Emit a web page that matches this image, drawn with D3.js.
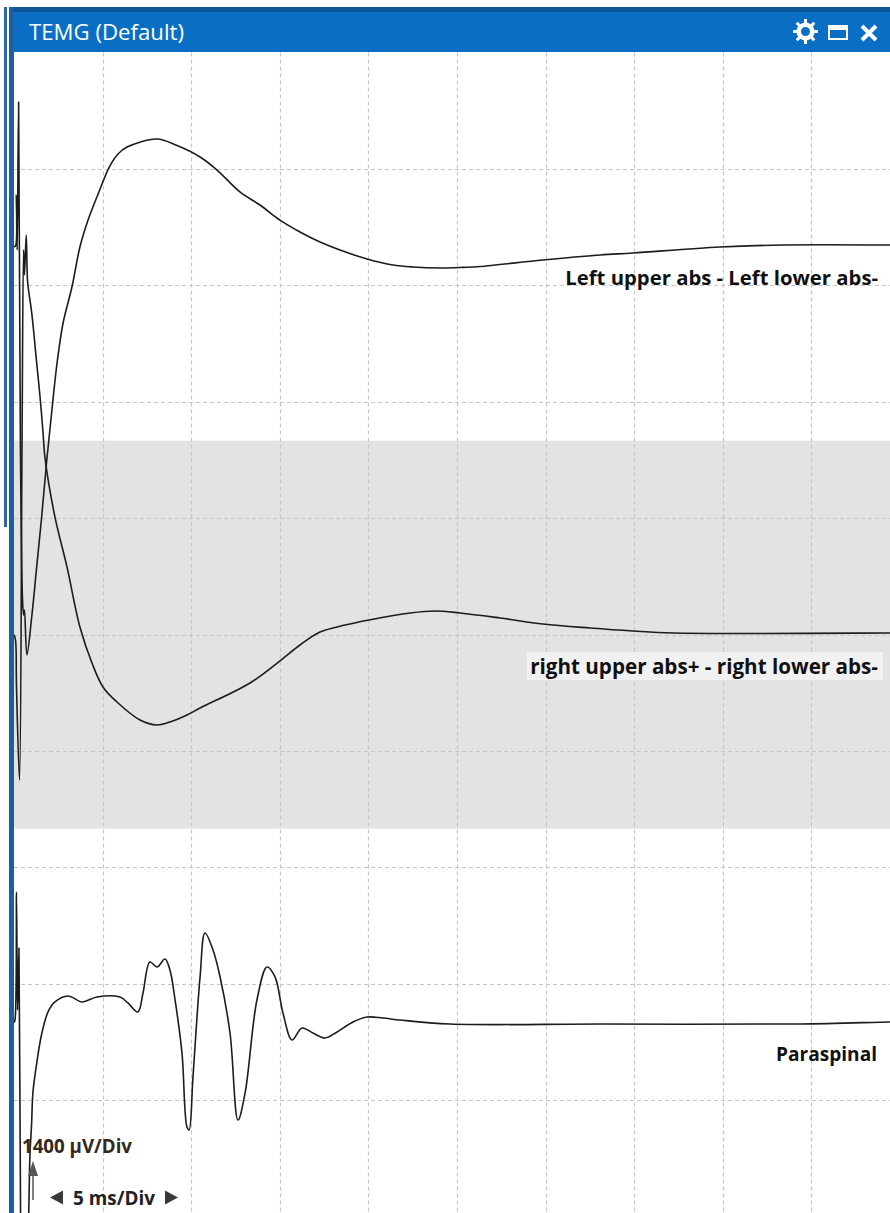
<!DOCTYPE html>
<html><head><meta charset="utf-8">
<script src="https://cdn.jsdelivr.net/npm/d3@7"></script>
<style>html,body{margin:0;padding:0;background:#fff;overflow:hidden}svg{display:block}</style>
</head><body>
<script>
// ---- Data (time in ms, amplitude in µV) ----
const channelNames = ["Left upper abs - Left lower abs-", "right upper abs+ - right lower abs-", "Paraspinal"];
const timeDivLabel = "5 ms/Div";
const ampDivLabel = "1400 µV/Div";
const titleText = "TEMG (Default)";
const msPerDiv = 5;
const uvPerDiv = 1400;

const leftTime = [0,0.085,0.13,0.18,0.26,0.36,0.48,0.54,0.59,0.73,1.0,1.28,1.56,1.85,2.14,2.43,2.77,3.27,3.72,4.18,4.68,5.42,5.87,6.38,8.07,9.2,10.5,11.46,12.75,13.88,15.01,16.14,17.27,18.4,19.92,21.39,22.52,24.04,25.34,26.3,29.85,33.07,34.93,39.84,43.4,49.44,50];
const leftUv   = [0,7,620,-41,1740,-2326,-4250,-4432,-4371,-4912,-4455,-3854,-3252,-2567,-1965,-1400,-919,-486,-5,320,597,973,1114,1197,1294,1215,1078,921,657,500,319,176,55,-41,-149,-221,-245,-257,-250,-240,-161,-101,-77,-5,19,19,19];

const rightTime = [0,0.085,0.14,0.31,0.45,0.54,0.59,0.69,0.76,0.82,1.0,1.28,1.47,1.64,1.75,2.31,2.99,3.72,4.4,5.02,5.81,7.11,8.07,8.8,9.76,10.5,13.32,15.07,16.14,17.27,18.68,20.03,22.35,23.76,25.17,27.43,29.85,32.51,34.93,37.19,49.44,50];
const rightUv   = [0,-65,-618,-1749,2220,4627,4326,4807,4266,4145,3869,3267,2858,2425,2125,1415,814,92,-341,-630,-811,-1027,-1087,-1051,-967,-883,-582,-306,-125,31,115,176,260,284,260,200,128,79,43,19,19,19];

const paraTime = [0,0.056,0.14,0.2,0.28,0.37,0.45,0.68,0.82,0.9,0.99,1.07,1.26,1.55,1.92,2.31,3.05,3.84,4.68,5.98,6.43,6.99,7.28,7.67,8.07,8.52,8.8,9.09,9.48,9.76,9.88,10.1,10.5,10.78,11.23,11.63,12.19,12.64,13.04,13.71,14.28,14.73,15.18,15.69,16.25,16.87,17.55,18.23,19.13,19.92,20.82,21.78,24.6,33.07,44.36,49.44,50];
const paraUv   = [0,31,1571,152,897,-2291,-3097,-3217,-2375,-1593,-1232,-835,-522,-149,128,248,320,248,308,308,236,128,356,729,669,765,633,272,-366,-1256,-1292,-654,549,1078,873,549,-125,-1172,-848,272,669,549,115,-209,-65,-125,-185,-113,7,67,55,31,-17,-17,-17,7,7];

const series = [
  {name: channelNames[0], t: leftTime, v: leftUv},
  {name: channelNames[1], t: rightTime, v: rightUv},
  {name: channelNames[2], t: paraTime, v: paraUv}
];

// ---- Layout ----
const W = 890, H = 1213;
const plot = {left: 14, top: 52.6, width: 886, height: 1164};
const nDiv = 10;

const svg = d3.select("body").append("svg").attr("width", W).attr("height", H);

const x = d3.scaleLinear().domain([0, msPerDiv * nDiv]).range([plot.left, plot.left + plot.width]);
const yDiv = d3.scaleLinear().domain([0, nDiv]).range([plot.top, plot.top + plot.height]);
const chH = plot.height / 3;
const halfRange = uvPerDiv * (nDiv / 3) / 2;
const yScales = series.map((s, i) => d3.scaleLinear().domain([-halfRange, halfRange])
  .range([plot.top + chH * (i + 1), plot.top + chH * i]));

// background
svg.append("rect").attr("x", plot.left).attr("y", plot.top).attr("width", plot.width).attr("height", plot.height).attr("fill", "#ffffff");
svg.append("rect").attr("x", plot.left).attr("y", plot.top + chH).attr("width", plot.width).attr("height", chH).attr("fill", "#e3e3e3");

// grid
const g = svg.append("g").attr("stroke", "#c6c6c6").attr("stroke-width", 1.2).attr("stroke-dasharray", "4,3");
d3.range(1, nDiv).forEach(k => {
  const xx = Math.round(x(k * msPerDiv)) + 0.5;
  g.append("line").attr("x1", xx).attr("x2", xx).attr("y1", plot.top).attr("y2", H);
  const yy = Math.round(yDiv(k)) + 0.5;
  g.append("line").attr("x1", plot.left).attr("x2", W).attr("y1", yy).attr("y2", yy);
});

// traces
series.forEach((s, i) => {
  const pts = s.t.map((t, j) => [t, s.v[j]]);
  const line = d3.line().x(d => x(d[0])).y(d => yScales[i](d[1])).curve(d3.curveCatmullRom.alpha(0.5));
  svg.append("path").attr("d", line(pts)).attr("fill", "none").attr("stroke", "#1c1c1c").attr("stroke-width", 1.6).attr("stroke-linejoin", "round");
});

function fitText(sel, targetW) {
  const len = sel.node().getComputedTextLength();
  const fs = parseFloat(sel.attr("font-size"));
  sel.attr("font-size", (fs * targetW / len).toFixed(2));
  return sel;
}
const FONT = "'Open Sans', 'Noto Sans', sans-serif";

// channel labels
const labelRight = 878;
const lbl1 = svg.append("text").attr("x", labelRight).attr("y", 285).attr("text-anchor", "end")
  .attr("font-family", FONT).attr("font-weight", 700).attr("font-size", 18).attr("fill", "#111").text(series[0].name);
fitText(lbl1, 313);
svg.append("rect").attr("x", 527).attr("y", 652).attr("width", 356).attr("height", 28).attr("fill", "#f1f1f1");
const lbl2 = svg.append("text").attr("x", labelRight).attr("y", 674).attr("text-anchor", "end")
  .attr("font-family", FONT).attr("font-weight", 700).attr("font-size", 18).attr("fill", "#111").text(series[1].name);
fitText(lbl2, 348);
const lbl3 = svg.append("text").attr("x", labelRight - 1).attr("y", 1061).attr("text-anchor", "end")
  .attr("font-family", FONT).attr("font-weight", 700).attr("font-size", 18).attr("fill", "#111").text(series[2].name);
fitText(lbl3, 101);

// scale labels
const amp = svg.append("text").attr("x", 22).attr("y", 1153).attr("font-family", FONT).attr("font-weight", 700)
  .attr("font-size", 15).attr("fill", "#33291a").text(ampDivLabel);
fitText(amp, 110);
svg.append("path").attr("d", "M33,1161 L28,1176 L38,1176 Z").attr("fill", "#555");
svg.append("line").attr("x1", 33).attr("x2", 33).attr("y1", 1176).attr("y2", 1200).attr("stroke", "#555").attr("stroke-width", 1.5);
svg.append("path").attr("d", "M50,1197.5 L63,1190.5 L63,1204.5 Z").attr("fill", "#3a3a3a");
svg.append("path").attr("d", "M178,1197.5 L165,1190.5 L165,1204.5 Z").attr("fill", "#3a3a3a");
const tdl = svg.append("text").attr("x", 73).attr("y", 1205).attr("font-family", FONT).attr("font-weight", 700)
  .attr("font-size", 16).attr("fill", "#222").text(timeDivLabel);
fitText(tdl, 82);

// window chrome
svg.append("rect").attr("x", 0).attr("y", 0).attr("width", W).attr("height", 7).attr("fill", "#fff");
svg.append("rect").attr("x", 4).attr("y", 7).attr("width", 3).attr("height", 520).attr("fill", "#2a66a8");
svg.append("rect").attr("x", 9).attr("y", 7).attr("width", 5).attr("height", H - 7).attr("fill", "#1c5e9e");
svg.append("rect").attr("x", 13).attr("y", 7).attr("width", W - 13).attr("height", 45).attr("fill", "#0a6fc4");
svg.append("rect").attr("x", 13).attr("y", 7).attr("width", W - 13).attr("height", 5).attr("fill", "#0f5597");
const ttl = svg.append("text").attr("x", 29).attr("y", 40).attr("font-family", FONT).attr("font-size", 20)
  .attr("fill", "#ffffff").text(titleText);
fitText(ttl, 155);

// gear icon
(function(){
  const cx = 805.5, cy = 31.5, ro = 12.5, ri = 9, n = 8;
  const p = d3.path();
  const step = 2 * Math.PI / n;
  for (let i = 0; i < n; i++) {
    const a = i * step;
    const pts = [[ri, a - step*0.5], [ri, a - step*0.22], [ro, a - step*0.15], [ro, a + step*0.15], [ri, a + step*0.22]];
    pts.forEach((q, j) => {
      const px = cx + q[0] * Math.cos(q[1]), py = cy + q[0] * Math.sin(q[1]);
      if (i === 0 && j === 0) p.moveTo(px, py); else p.lineTo(px, py);
    });
  }
  p.closePath();
  p.moveTo(cx + 4.5, cy); p.arc(cx, cy, 4.5, 0, 2 * Math.PI);
  svg.append("path").attr("d", p.toString()).attr("fill", "#fff").attr("fill-rule", "evenodd");
})();
svg.append("rect").attr("x", 829).attr("y", 26).attr("width", 18).attr("height", 13).attr("fill", "none").attr("stroke", "#fff").attr("stroke-width", 2);
svg.append("rect").attr("x", 828).attr("y", 25).attr("width", 20).attr("height", 5).attr("fill", "#fff");
svg.append("path").attr("d", "M862,26 L876,40 M876,26 L862,40").attr("stroke", "#fff").attr("stroke-width", 4);
</script>
</body></html>
